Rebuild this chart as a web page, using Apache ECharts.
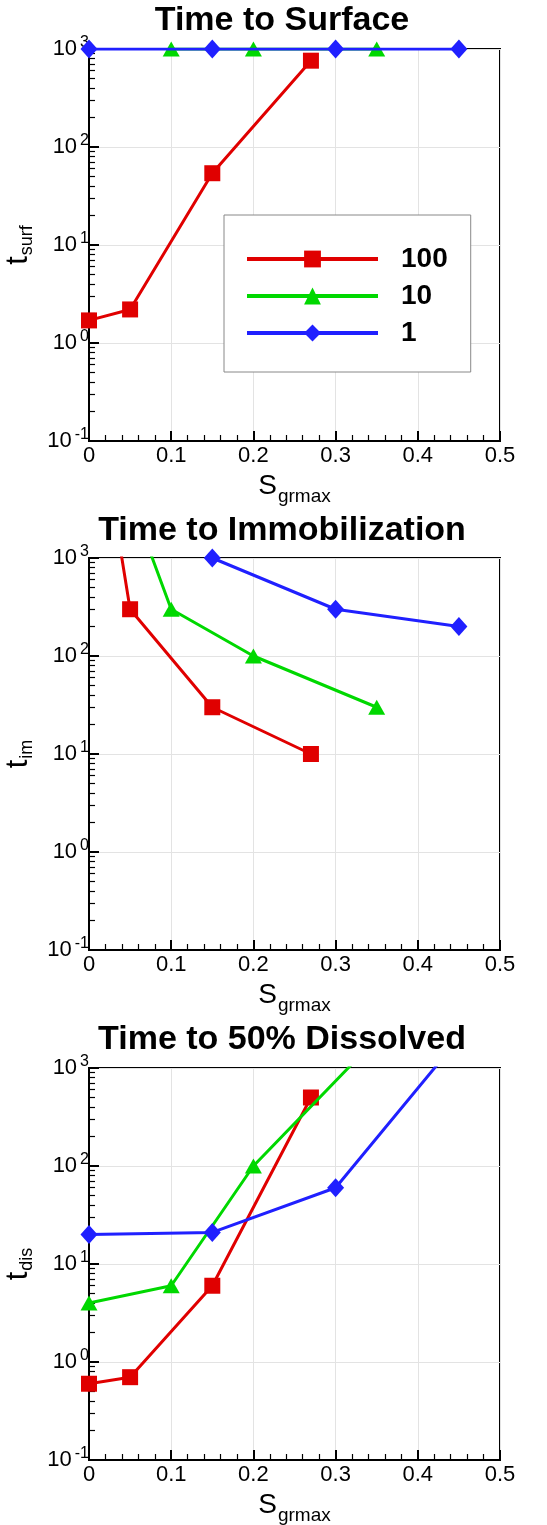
<!DOCTYPE html>
<html>
<head>
<meta charset="utf-8">
<script src="https://cdn.jsdelivr.net/npm/echarts@6/dist/echarts.min.js"></script>
<style>
  html, body { margin: 0; padding: 0; background: #fff; }
  #chart { width: 547px; height: 1525px; }
</style>
</head>
<body>
<div id="chart"></div>
<script>
// panel titles and axis names
var panelTitles = ["Time to Surface", "Time to Immobilization", "Time to 50% Dissolved"];
var ySubs = ["surf", "im", "dis"];
var seriesNames = ["100", "10", "1"];

// x tick labels / y tick exponents
var xTicks = [0, 0.1, 0.2, 0.3, 0.4, 0.5];
var yExponents = ["-1", "0", "1", "2", "3"];

// Time to Surface
var surf100 = [[0, 1.7], [0.05, 2.2], [0.15, 54], [0.27, 760]];
var surf10 = [[0.1, 1000], [0.2, 1000], [0.35, 1000]];
var surf1 = [[0, 1000], [0.15, 1000], [0.3, 1000], [0.45, 1000]];

// Time to Immobilization (first points sit above the plotted range)
var im100 = [[0, 120000], [0.05, 300], [0.15, 30], [0.27, 10]];
var im10 = [[0, 56000], [0.1, 300], [0.2, 100], [0.35, 30]];
var im1 = [[0.15, 1000], [0.3, 300], [0.45, 200]];

// Time to 50% Dissolved (last points of 10 and 1 sit above the range)
var dis100 = [[0, 0.6], [0.05, 0.7], [0.15, 6], [0.27, 500]];
var dis10 = [[0, 4], [0.1, 6], [0.2, 100], [0.35, 2000]];
var dis1 = [[0, 20], [0.15, 21], [0.3, 60], [0.45, 2000]];

var panelData = [
  [surf100, surf10, surf1],
  [im100, im10, im1],
  [dis100, dis10, dis1]
];

var colors = ["#e00000", "#00d800", "#2020ff"];
var symbols = ["rect", "triangle", "diamond"];
var symbolSizes = [16, [17, 15], [17, 19]];

var gridTops = [49, 558, 1068];
var titleTops = [4, 514, 1023];

var myChart = echarts.init(document.getElementById("chart"));

// minor log ticks 2..9 in every decade, as exponents for a linear helper axis
var minorExp = [];
for (var d = -1; d < 3; d++) {
  for (var k = 2; k <= 9; k++) {
    minorExp.push(d + Math.log(k) / Math.LN10);
  }
}

var font = "Liberation Sans, Arial";
var grids = [], xAxes = [], yAxes = [], series = [], titles = [];

for (var p = 0; p < 3; p++) {
  grids.push({
    left: 89, width: 411, top: gridTops[p], height: 392,
    containLabel: false, outerBoundsMode: "none",
    show: true, borderColor: "#000", borderWidth: 2, backgroundColor: "transparent"
  });
  titles.push({
    text: panelTitles[p],
    left: 282, top: titleTops[p], padding: 0,
    textAlign: "center", textVerticalAlign: "top",
    textStyle: { fontFamily: font, fontSize: 34, fontWeight: "bold", color: "#000" }
  });
  xAxes.push({
    gridIndex: p, type: "value", min: 0, max: 0.5, interval: 0.1,
    name: "{s|S}{g|grmax}", nameLocation: "middle", nameGap: 26,
    nameTextStyle: {
      rich: {
        s: { fontFamily: font, fontSize: 28, color: "#000" },
        g: { fontFamily: font, fontSize: 19, color: "#000", padding: [20, 0, 0, 1] }
      }
    },
    axisLine: { show: true, onZero: false, lineStyle: { color: "#000", width: 2 } },
    axisTick: { show: true, inside: true, length: 10, lineStyle: { color: "#000", width: 2 } },
    minorTick: { show: true, splitNumber: 5, length: 6, lineStyle: { color: "#000", width: 1.2 } },
    splitLine: { show: true, lineStyle: { color: "#e3e3e3", width: 1 } },
    axisLabel: {
      margin: 4, fontFamily: font, fontSize: 22, color: "#000",
      formatter: function (v) {
        for (var i = 0; i < xTicks.length; i++) {
          if (Math.abs(xTicks[i] - v) < 1e-9) return String(xTicks[i]);
        }
        return "";
      }
    }
  });
  // main log axis
  yAxes.push({
    gridIndex: p, type: "log", logBase: 10, min: 0.1, max: 1000,
    name: "{t|t}{u|" + ySubs[p] + "}", nameLocation: "middle", nameGap: 42, nameRotate: 90,
    nameTextStyle: {
      rich: {
        t: { fontFamily: font, fontSize: 31, color: "#000" },
        u: { fontFamily: font, fontSize: 18, color: "#000", padding: [18, 0, 0, 1] }
      }
    },
    axisLine: { show: true, onZero: false, lineStyle: { color: "#000", width: 2 } },
    axisTick: { show: true, inside: true, length: 10, lineStyle: { color: "#000", width: 2 } },
    splitLine: { show: true, lineStyle: { color: "#e3e3e3", width: 1 } },
    axisLabel: {
      margin: 0, fontFamily: font, fontSize: 22, color: "#000",
      formatter: function (v) {
        var e = Math.round(Math.log(v) / Math.LN10);
        return "{b|10}{s|" + yExponents[e + 1] + "}";
      },
      rich: {
        b: { fontFamily: font, fontSize: 22, color: "#000" },
        s: { fontFamily: font, fontSize: 16, color: "#000", padding: [0, 0, 12, 3] }
      }
    }
  });
  // helper axis in exponent space, minor ticks only
  yAxes.push({
    gridIndex: p, type: "value", min: -1, max: 3, position: "left",
    alignTicks: false,
    axisLine: { show: false },
    axisLabel: { show: false },
    splitLine: { show: false },
    axisTick: { show: true, inside: true, length: 6, customValues: minorExp, lineStyle: { color: "#000", width: 1.2 } }
  });

  for (var s = 0; s < 3; s++) {
    series.push({
      name: seriesNames[s], type: "line",
      xAxisIndex: p, yAxisIndex: p * 2,
      data: panelData[p][s],
      clip: true,
      symbol: symbols[s], symbolSize: symbolSizes[s],
      showAllSymbol: true,
      lineStyle: { color: colors[s], width: 3 },
      itemStyle: { color: colors[s] },
      emphasis: { disabled: true },
      z: 3 + s
    });
  }
}

var option = {
  animation: false,
  backgroundColor: "#fff",
  title: titles,
  grid: grids,
  xAxis: xAxes,
  yAxis: yAxes,
  legend: {
    data: seriesNames,
    orient: "vertical",
    left: 224, top: 215,
    padding: [30, 23, 25, 21],
    itemGap: 9,
    itemWidth: 131, itemHeight: 21,
    backgroundColor: "#fff",
    borderColor: "#888", borderWidth: 1,
    lineStyle: { width: 4 },
    selectedMode: false,
    textStyle: {
      fontFamily: font, fontSize: 28, fontWeight: "bold", color: "#000",
      padding: [0, 0, 0, 18]
    }
  },
  series: series
};

myChart.setOption(option);
window.addEventListener("resize", function () { myChart.resize(); });
</script>
</body>
</html>
